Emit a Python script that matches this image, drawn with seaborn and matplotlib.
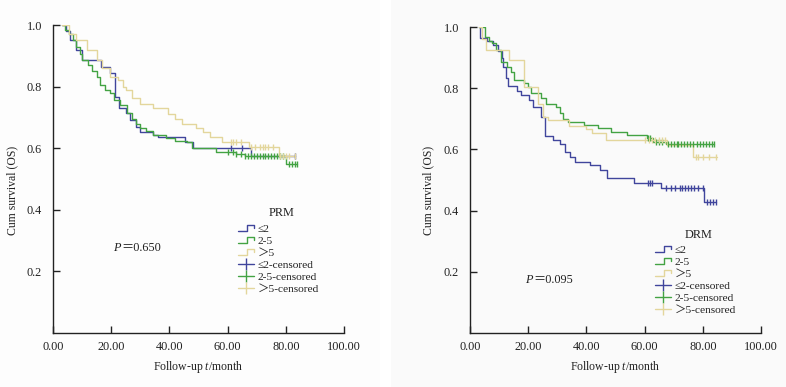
import numpy as np
import pandas as pd
import matplotlib
matplotlib.use("Agg")
import matplotlib.pyplot as plt
import seaborn as sns
from matplotlib.lines import Line2D
from matplotlib.legend_handler import HandlerBase
from matplotlib.font_manager import FontProperties
from matplotlib.patches import Rectangle

sns.set_style("ticks")
plt.rcParams['font.family'] = ['Liberation Serif', 'Noto Sans CJK SC', 'DejaVu Serif']
plt.rcParams['mathtext.fontset'] = 'custom'
plt.rcParams['mathtext.rm'] = 'Liberation Serif'
plt.rcParams['mathtext.it'] = 'Liberation Serif:italic'

# ---------------- data ----------------
groups = ["≤2", "2-5", "＞5"]
colors = ["#40459c", "#43a343", "#e3d69c"]

# PRM panel
prm_t_le2 = [3, 4.5, 6, 8, 10, 16.5, 19.6, 21.3, 22.7, 25, 26.5, 28.5, 30, 34.5, 36, 45.5, 48, 68, 83]
prm_s_le2 = [1.0, 0.98, 0.95, 0.92, 0.885, 0.865, 0.845, 0.765, 0.73, 0.713, 0.69, 0.67, 0.654, 0.643, 0.635, 0.62, 0.60, 0.575, 0.575]
prm_c_le2 = [61, 65, 83]

prm_t_25 = [3, 4, 5.5, 7, 8, 9.3, 10, 12, 13.5, 15, 16, 18, 19.6, 21, 23, 25.3, 27, 28.5, 30, 32, 34.5, 39, 42, 46, 47.7, 56, 63, 66, 80, 84]
prm_s_25 = [1.0, 0.985, 0.97, 0.95, 0.93, 0.905, 0.886, 0.87, 0.85, 0.83, 0.805, 0.79, 0.78, 0.756, 0.74, 0.713, 0.695, 0.68, 0.665, 0.655, 0.643, 0.632, 0.625, 0.62, 0.60, 0.588, 0.58, 0.575, 0.55, 0.55]
prm_c_25 = [60, 62, 63, 64.5, 66, 67, 68, 69, 70, 71, 72, 73, 74, 75, 76, 77, 78, 79, 81, 82, 83, 84]

prm_t_gt5 = [3, 5.5, 8, 11.6, 15, 17, 19.6, 22.5, 24, 25, 27, 30, 34.5, 39.5, 42, 44.5, 49, 51.5, 54, 58, 67.5, 77.5, 83]
prm_s_gt5 = [1.0, 0.97, 0.95, 0.92, 0.886, 0.86, 0.832, 0.82, 0.80, 0.79, 0.763, 0.745, 0.73, 0.71, 0.695, 0.68, 0.665, 0.654, 0.637, 0.62, 0.605, 0.575, 0.575]
prm_c_gt5 = [61, 62, 63, 64.5, 68, 69.5, 71, 72, 73, 74, 75.5, 78, 79, 80, 81, 83]

# DRM panel
drm_t_le2 = [3, 3.4, 6, 7.8, 9.5, 10.9, 11.5, 12.4, 13, 16, 17.5, 20.4, 21.5, 24.4, 25.8, 28.4, 31, 32.5, 34.2, 36, 41.2, 44.7, 47, 56.5, 65.6, 80.4, 84.5]
drm_s_le2 = [1.0, 0.964, 0.955, 0.94, 0.92, 0.90, 0.87, 0.833, 0.807, 0.79, 0.778, 0.76, 0.739, 0.706, 0.644, 0.63, 0.617, 0.592, 0.575, 0.56, 0.55, 0.533, 0.506, 0.49, 0.473, 0.427, 0.427]
drm_c_le2 = [61, 62, 62.5, 67.5, 69, 70.5, 72, 73, 74, 75, 76, 77, 78.5, 80, 81.5, 82.5, 83.5, 84.5]

drm_t_25 = [3, 5, 6.5, 7.7, 8.8, 10.5, 12.8, 14, 15, 18.5, 20, 21, 24.4, 26, 29.4, 31, 32, 33.6, 39.3, 43.9, 48.5, 54, 60.8, 63, 67.5, 84]
drm_s_25 = [1.0, 0.967, 0.955, 0.947, 0.925, 0.887, 0.87, 0.854, 0.827, 0.817, 0.803, 0.784, 0.768, 0.75, 0.739, 0.719, 0.70, 0.69, 0.68, 0.67, 0.658, 0.647, 0.636, 0.625, 0.618, 0.618]
drm_c_25 = [61, 62, 64, 65, 66, 68, 69, 70, 71, 71.5, 72.5, 73.5, 74.5, 75.5, 76.5, 78, 79, 80, 81, 82, 83, 84]

drm_t_gt5 = [3, 4, 5.5, 13.4, 18.5, 23.5, 25, 26.8, 34, 40, 42, 46.8, 67.6, 76.7, 84.8]
drm_s_gt5 = [1.0, 0.96, 0.925, 0.892, 0.805, 0.75, 0.706, 0.696, 0.676, 0.667, 0.654, 0.631, 0.614, 0.576, 0.576]
drm_c_gt5 = [60, 61.5, 62.5, 63.5, 65, 66, 67, 77.5, 78.5, 80, 82, 84.5]

prm_curves = [(prm_t_le2, prm_s_le2, prm_c_le2), (prm_t_25, prm_s_25, prm_c_25), (prm_t_gt5, prm_s_gt5, prm_c_gt5)]
drm_curves = [(drm_t_le2, drm_s_le2, drm_c_le2), (drm_t_25, drm_s_25, drm_c_25), (drm_t_gt5, drm_s_gt5, drm_c_gt5)]

xticks = [0, 20, 40, 60, 80, 100]
xticklabels = ["0.00", "20.00", "40.00", "60.00", "80.00", "100.00"]
yticks = [0.2, 0.4, 0.6, 0.8, 1.0]
yticklabels = ["0.2", "0.4", "0.6", "0.8", "1.0"]


class StepHandler(HandlerBase):
    def create_artists(self, legend, orig_handle, xdescent, ydescent, width, height, fontsize, trans):
        x0, y0 = -xdescent, -ydescent
        w, h = width, height
        xs = [x0, x0 + 0.55 * w, x0 + 0.55 * w, x0 + w, x0 + w]
        ys = [y0 + 0.1 * h, y0 + 0.1 * h, y0 + 0.85 * h, y0 + 0.85 * h, y0 + 0.45 * h]
        ln = Line2D(xs, ys, color=orig_handle.get_color(), lw=1.0)
        ln.set_transform(trans)
        return [ln]


fig = plt.figure(figsize=(7.86, 3.87), dpi=100)
fig.patch.set_facecolor("white")
fig.add_artist(Rectangle((0, 0), 380 / 786, 1, transform=fig.transFigure, facecolor="#fdfdfd", edgecolor="none", zorder=-10))
fig.add_artist(Rectangle((391 / 786, 0), 1 - 391 / 786, 1, transform=fig.transFigure, facecolor="#fafafa", edgecolor="none", zorder=-10))

ax1 = fig.add_axes([53 / 786, 1 - 333 / 387, 291 / 786, 308 / 387])
ax2 = fig.add_axes([470 / 786, 1 - 333 / 387, 291 / 786, 306 / 387])

# (axes, curves, title, p value, P position px, title center px, legend anchor px, ylabel x px, axes x0 px)
panels = [(ax1, prm_curves, "PRM", "0.650", (113, 248), (282, 213), (238, 224), 12, 53),
          (ax2, drm_curves, "DRM", "0.095", (525, 280), (699, 235), (655, 245), 428, 470)]

legfont = FontProperties(family=['Liberation Serif', 'Noto Sans CJK SC', 'DejaVu Serif'], size=8.2)
W, H = 786, 387
TXT = "#222222"

for ax, curves, title, pval, ppos, tpos, lpos, ylx, x0px in panels:
    ax.set_facecolor("none")
    for (t, s, c), col in zip(curves, colors):
        df = pd.DataFrame({"t": t, "s": s})
        sns.lineplot(data=df, x="t", y="s", ax=ax, color=col, lw=1.0,
                     drawstyle="steps-post", estimator=None, sort=False, legend=False)
        tt = np.asarray(t)
        ss = np.asarray(s)
        idx = np.searchsorted(tt, np.asarray(c), side="right") - 1
        cdf = pd.DataFrame({"t": c, "s": ss[idx]})
        sns.scatterplot(data=cdf, x="t", y="s", ax=ax, marker="|", s=24, color=col,
                        linewidth=1.0, legend=False, zorder=3)
    ax.set_xlim(0, 100)
    ax.set_ylim(0, 1.0)
    ax.set_xticks(xticks)
    ax.set_xticklabels(xticklabels)
    ax.set_yticks(yticks)
    ax.set_yticklabels(yticklabels)
    ax.tick_params(axis="x", direction="in", length=5, width=1, pad=5.5, labelsize=8.8, colors=TXT)
    ax.tick_params(axis="y", direction="in", length=5, width=1, pad=8, labelsize=8.8, colors=TXT)
    for sp in ["top", "right"]:
        ax.spines[sp].set_visible(False)
    for sp in ["left", "bottom"]:
        ax.spines[sp].set_linewidth(1.0)
        ax.spines[sp].set_color(TXT)
    ax.set_xlabel("")
    ax.set_ylabel("")

    # p value
    fig.text(ppos[0] / W, 1 - ppos[1] / H, "P", fontsize=8.8, style="italic",
             family="Liberation Serif", va="center", ha="left", color=TXT)
    fig.text((ppos[0] + 8.5) / W, 1 - ppos[1] / H, "＝" + pval, fontsize=8.8,
             family=['Liberation Serif', 'Noto Sans CJK SC'], va="center", ha="left", color=TXT)

    # legend title
    fig.text(tpos[0] / W, 1 - tpos[1] / H, title, fontsize=8.8, ha="center", va="center", color=TXT)

    # legend
    handles = [Line2D([], [], color=col, lw=1.0) for col in colors]
    handles += [Line2D([0], [0], color=col, lw=1.0, marker="|", markersize=8, markeredgewidth=1.0) for col in colors]
    labels = groups + [g + "-censored" for g in groups]
    hmap = {h: StepHandler() for h in handles[:3]}
    leg = fig.legend(handles, labels, loc="upper left", bbox_to_anchor=(lpos[0] / W, 1 - lpos[1] / H),
                     frameon=False, prop=legfont, handlelength=1.4, handletextpad=0.3,
                     labelspacing=0.17, borderpad=0, borderaxespad=0, handler_map=hmap)
    for txt in leg.get_texts():
        txt.set_color(TXT)

    fig.text(ylx / W, 1 - 190 / H, "Cum survival (OS)", rotation=90, ha="center", va="center",
             fontsize=8.5, color=TXT)
    fig.text((x0px + 145.5) / W, 1 - 367 / H, "Follow-up $t$/month", ha="center", va="center",
             fontsize=8.5, color=TXT)

fig.savefig("out.png", dpi=100)
